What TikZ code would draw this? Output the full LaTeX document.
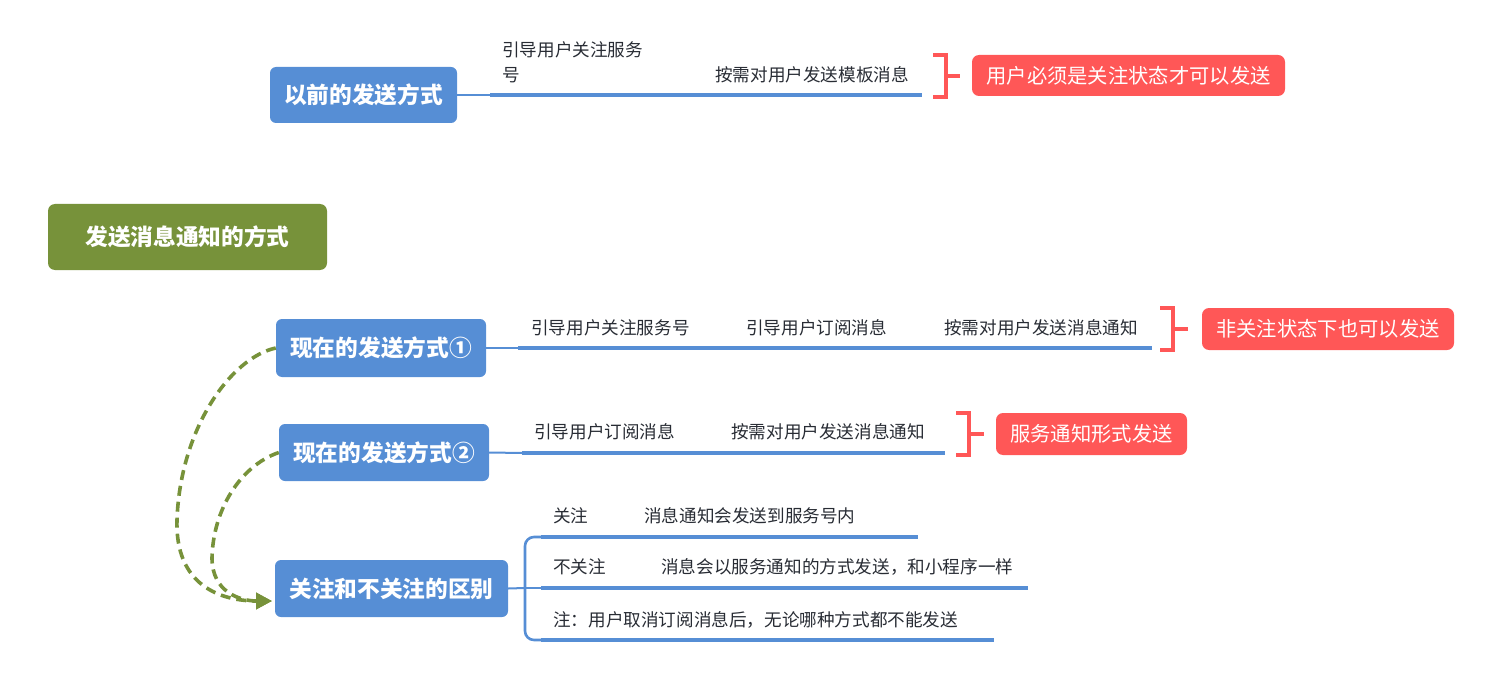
\documentclass[tikz,border=0pt]{standalone}
\usepackage{fontspec}
\setmainfont{Noto Sans CJK SC}
\usetikzlibrary{arrows.meta}
\definecolor{tblue}{RGB}{86,142,213}
\definecolor{tred}{RGB}{255,87,87}
\definecolor{tgreen}{RGB}{119,146,58}
\definecolor{ttext}{RGB}{40,44,52}
\tikzset{
  topic/.style={fill=tblue, rounded corners=6pt, text=white, inner sep=0pt,
    font=\bfseries\fontsize{22.7}{26}\selectfont},
  rootbox/.style={fill=tgreen, rounded corners=7pt, text=white, inner sep=0pt,
    font=\bfseries\fontsize{22.7}{26}\selectfont},
  notebox/.style={fill=tred, rounded corners=7pt, text=white, inner sep=0pt,
    font=\fontsize{20.3}{24}\selectfont},
  leaf/.style={anchor=west, inner sep=0pt, text=ttext, font=\fontsize{17.6}{25}\selectfont},
  stem/.style={draw=tblue, line width=2pt},
  branch/.style={draw=tblue, line width=3.6pt},
  brak/.style={draw=tred, line width=3.4pt},
  link/.style={draw=tgreen, line width=3.6pt, dash pattern=on 10pt off 6pt},
  tip/.style={-{Triangle[length=16pt,width=16pt]}}
}
\begin{document}
\begin{tikzpicture}[x=1pt,y=-1pt]
\useasboundingbox (0,0) rectangle (1507,679);

% main topics
\node[topic, minimum width=187, minimum height=56] (prev) at (363.5,95) {以前的发送方式};
\node[rootbox, minimum width=279, minimum height=66] (root) at (187.5,237) {发送消息通知的方式};
\node[topic, minimum width=210, minimum height=58] (now1) at (381,348) {现在的发送方式①};
\node[topic, minimum width=210, minimum height=57] (now2) at (384,452.5) {现在的发送方式②};
\node[topic, minimum width=233, minimum height=57] (diff) at (391.5,588.5) {关注和不关注的区别};

% notes
\node[notebox, minimum width=313, minimum height=41] (red1) at (1128.5,75.5) {用户必须是关注状态才可以发送};
\node[notebox, minimum width=252, minimum height=42] (red2) at (1328,329) {非关注状态下也可以发送};
\node[notebox, minimum width=191, minimum height=42] (red3) at (1091.5,434) {服务通知形式发送};

% row 1: previous
\coordinate (p1) at (490,95);
\coordinate (p2) at (922,95);
\draw[stem] (prev.east) -- (p1);
\draw[branch] (p1) -- (p2);
\node[leaf, align=left, anchor=north west] (pa) at (502,41) {引导用户关注服务\\号};
\node[leaf] (pb) at (715,75) {按需对用户发送模板消息};
\coordinate (b1t) at (933,55);
\coordinate (b1b) at (933,97);
\coordinate (b1m) at (946,76);
\coordinate (b1e) at (960,76);
\draw[brak] (b1t) -- ++(13,0) -- ++(0,42) -- (b1b);
\draw[brak] (b1m) -- (b1e);

% row 2: now 1
\coordinate (q1) at (518,348);
\coordinate (q2) at (1152,348);
\draw[stem] (now1.east) -- (q1);
\draw[branch] (q1) -- (q2);
\node[leaf] (qa) at (531,328) {引导用户关注服务号};
\node[leaf] (qb) at (746,328) {引导用户订阅消息};
\node[leaf] (qc) at (944,328) {按需对用户发送消息通知};
\coordinate (b2t) at (1160,308);
\coordinate (b2b) at (1160,350);
\coordinate (b2m) at (1173,329);
\coordinate (b2e) at (1188,329);
\draw[brak] (b2t) -- ++(13,0) -- ++(0,42) -- (b2b);
\draw[brak] (b2m) -- (b2e);

% row 3: now 2
\coordinate (r1) at (522,453);
\coordinate (r2) at (945,453);
\draw[stem] (now2.east) -- (r1);
\draw[branch] (r1) -- (r2);
\node[leaf] (ra) at (534,432) {引导用户订阅消息};
\node[leaf] (rb) at (731,432) {按需对用户发送消息通知};
\coordinate (b3t) at (956,413);
\coordinate (b3b) at (956,455);
\coordinate (b3m) at (969,434);
\coordinate (b3e) at (984,434);
\draw[brak] (b3t) -- ++(13,0) -- ++(0,42) -- (b3b);
\draw[brak] (b3m) -- (b3e);

% row 4: difference
\coordinate (dj) at (525,588);
\coordinate (s1) at (541,537);
\coordinate (s2) at (541,588);
\coordinate (s3) at (541,640);
\draw[stem] (diff.east) -- (dj);
\draw[draw=tblue, line width=2.6pt, rounded corners=9pt] (s1) -- (525,537) -- (525,640) -- (s3);
\draw[stem] (dj) -- (s2);
\draw[branch] (s1) -- (918,537);
\draw[branch] (s2) -- (1028,588);
\draw[branch] (s3) -- (994,640);
\node[leaf] (da) at (553,516) {关注};
\node[leaf] (db) at (644,516) {消息通知会发送到服务号内};
\node[leaf] (dc) at (553,567) {不关注};
\node[leaf] (dd) at (661,567) {消息会以服务通知的方式发送，和小程序一样};
\node[leaf] (de) at (553,620) {注：用户取消订阅消息后，无论哪种方式都不能发送};

% dashed links
\coordinate (arr) at (272,601);
\draw[link, tip] (now1.west) .. controls (230,358) and (180,430) .. (177,520)
  .. controls (175,585) and (220,601) .. (arr);
\draw[link, tip] (now2.west) .. controls (240,466) and (213,510) .. (212,558)
  .. controls (212,592) and (240,601) .. (arr);
\end{tikzpicture}
\end{document}
